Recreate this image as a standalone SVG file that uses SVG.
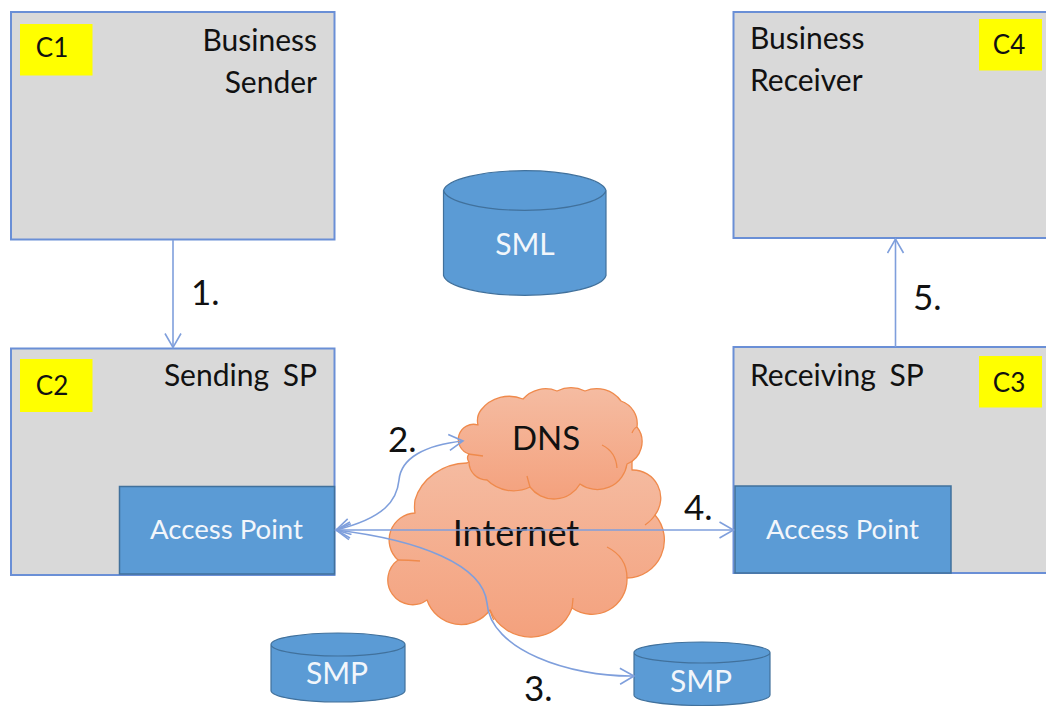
<svg xmlns="http://www.w3.org/2000/svg" width="1046" height="706" viewBox="0 0 1046 706">
<style>
text{font-family:"Lato","Open Sans","Liberation Sans",sans-serif;fill:#111}
.box{fill:#d9d9d9;stroke:#6a8fd6;stroke-width:2}
.tag{fill:#ffff00}
.ap{fill:#5b9bd5;stroke:#41719c;stroke-width:1.5}
.w{fill:#f2f6fb}
.t{font-size:30px}
.sp{word-spacing:6px}
.c{font-size:26px}
.ac{font-size:27.6px}
.cy{font-size:30px}
.n{font-size:35px}
.cyl{fill:#5b9bd5;stroke:#41719c;stroke-width:1.2}
.cloud{fill:url(#cg);stroke:#ef8a4c;stroke-width:1.3;stroke-linejoin:round}
.crease{fill:none;stroke:#ef8a4c;stroke-width:1.3}
.line{fill:none;stroke:#7f9fdc;stroke-width:1.6}
</style>
<defs>
<linearGradient id="cg" x1="0" y1="0" x2="0" y2="1"><stop offset="0" stop-color="#f5bca2"/><stop offset="1" stop-color="#f4a17d"/></linearGradient>
<marker id="a" markerUnits="userSpaceOnUse" markerWidth="20" markerHeight="20" refX="15" refY="9" orient="auto-start-reverse"><path d="M1 1L15 9L1 17" fill="none" stroke="#7f9fdc" stroke-width="1.6"/></marker>
</defs>
<g id="c1-business-sender"><rect class="box" x="11" y="12" width="323.5" height="227.5"/><rect class="tag" x="20" y="24" width="72.500" height="51.500"/><text class="c" x="52" y="57" text-anchor="middle">C1</text><text class="t" x="317" y="51" text-anchor="end">Business</text><text class="t" x="317" y="93" text-anchor="end">Sender</text></g>
<g id="c4-business-receiver"><rect class="box" x="733.500" y="12" width="320" height="226"/><rect class="tag" x="979" y="19" width="63" height="51.500"/><text class="c" x="1009" y="54" text-anchor="middle">C4</text><text class="t" x="750" y="49">Business</text><text class="t" x="750" y="91">Receiver</text></g>
<g id="sml"><path class="cyl" d="M443.500 190.500V275.500A81.500 21.500 0 0 0 606 275.500V190.500A81.500 21.500 0 0 0 443.500 190.500A81.500 21.500 0 0 0 606 190.500"/><text class="w cy" x="525" y="255" text-anchor="middle">SML</text></g>
<g id="c2-sending-sp"><rect class="box" x="11" y="348.500" width="323.5" height="226.500"/><rect class="tag" x="20" y="359" width="72.500" height="53"/><text class="c" x="52" y="395" text-anchor="middle">C2</text><text class="t sp" x="317" y="386" text-anchor="end">Sending SP</text><g id="ap-left"><rect class="ap" x="119.500" y="486.500" width="215" height="87.500"/><text class="w ac" x="226.500" y="539" text-anchor="middle">Access Point</text></g></g>
<g id="c3-receiving-sp"><rect class="box" x="733.500" y="347" width="320" height="226"/><rect class="tag" x="979" y="356" width="63" height="51.500"/><text class="c" x="1009" y="392" text-anchor="middle">C3</text><text class="t sp" x="750" y="386">Receiving SP</text><g id="ap-right"><rect class="ap" x="735" y="486" width="216" height="87"/><text class="w ac" x="842.500" y="539" text-anchor="middle">Access Point</text></g></g>
<g id="internet"><path class="cloud" d="M415 513A27 27 0 0 0 398 560A23 23 0 0 0 427 600A36 36 0 0 0 490 610A44 44 0 0 0 572 608A35 35 0 0 0 627 578A38 38 0 0 0 655 515A28 28 0 0 0 632 470L632 455H480L467 463A55 50 0 0 0 415 500Q414 507 415 513Z"/><path class="crease" d="M398 560Q408 560 420 561M607 547Q627 557 627 578M645 525Q652 520 655 515M490 610Q492 617 494 620M572 608Q573 600 573 598"/><text x="516" y="546" text-anchor="middle" style="font-size:36px">Internet</text></g>
<g id="dns"><path class="cloud" d="M478 425A18 18 0 0 1 481 410A36 36 0 0 1 523 399A30 30 0 0 1 557 391A32 32 0 0 1 585 391A30 30 0 0 1 621 401A24 24 0 0 1 637 427A24 24 0 0 1 627 464A30 30 0 0 1 580 484A30 30 0 0 1 530 487A38 38 0 0 1 487 480A18 18 0 0 1 469 462Q466 458 469 454A15 15 0 0 1 478 425Z"/><path class="crease" d="M468 454Q476 455 483 456M602 445Q616 452 617 468M632 433Q634 428 637 427M530 487Q528 480 527 476"/><text x="546" y="450" text-anchor="middle" style="font-size:33px">DNS</text></g>
<g id="smp-left"><path class="cyl" d="M271 644.500V690.500A67 11.500 0 0 0 405 690.500V644.500A67 11.500 0 0 0 271 644.500A67 11.500 0 0 0 405 644.500"/><text class="w cy" x="337" y="684" text-anchor="middle">SMP</text></g>
<g id="smp-right"><path class="cyl" d="M634 652.500V695A68 10.500 0 0 0 770 695V652.500A68 10.500 0 0 0 634 652.500A68 10.500 0 0 0 770 652.500"/><text class="w cy" x="701" y="692" text-anchor="middle">SMP</text></g>
<g id="connectors">
<path class="line" d="M173 240V347.500" marker-end="url(#a)"/>
<path class="line" d="M895.500 347V239" marker-end="url(#a)"/>
<path class="line" d="M336 530H733.500" marker-start="url(#a)" marker-end="url(#a)"/>
<path class="line" d="M336 530C385 518 397 500 399 480C401 458 425 445 463 441" marker-start="url(#a)" marker-end="url(#a)"/>
<path class="line" d="M336 530C420 540 483 565 487 603C490 650 570 677 634 676" marker-start="url(#a)" marker-end="url(#a)"/>
</g>
<g id="labels">
<text class="n" x="191" y="305">1.</text>
<text class="n" x="388" y="452">2.</text>
<text class="n" x="524" y="701">3.</text>
<text class="n" x="684" y="520">4.</text>
<text class="n" x="913" y="310">5.</text>
</g>
</svg>
